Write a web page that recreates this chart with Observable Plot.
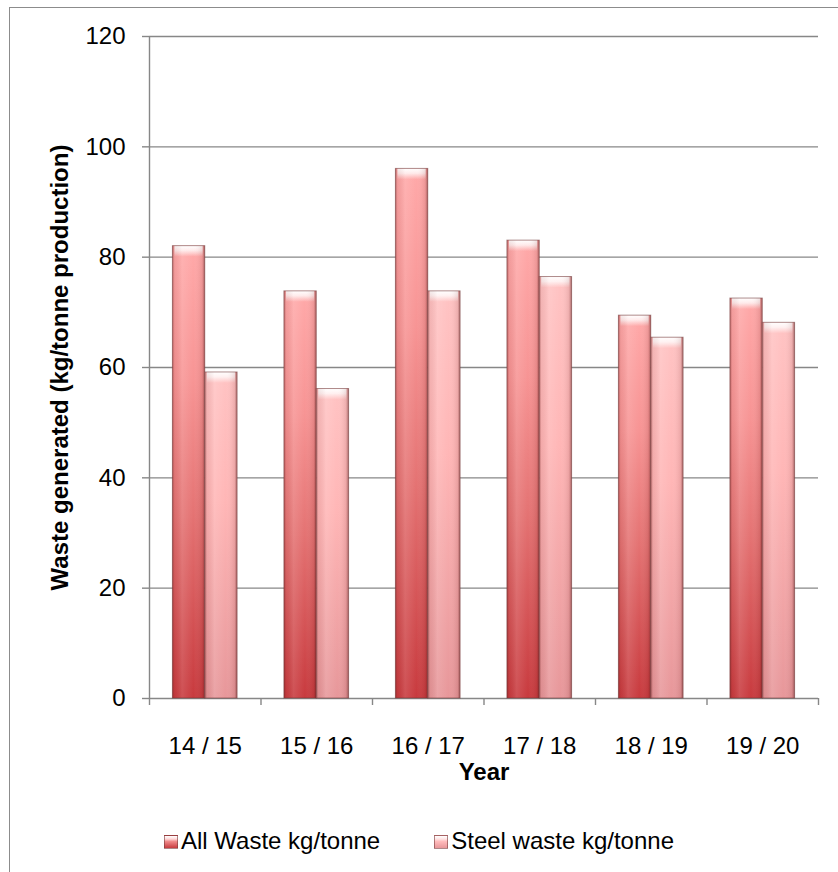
<!DOCTYPE html>
<html>
<head>
<meta charset="utf-8">
<script src="https://cdn.jsdelivr.net/npm/d3@7"></script>
<script src="https://cdn.jsdelivr.net/npm/@observablehq/plot@0.6"></script>
<style>
  html, body { margin: 0; padding: 0; background: #fff; overflow: hidden; }
  body { width: 838px; height: 872px; position: relative; font-family: "Liberation Sans", Arial, sans-serif; }
  #frame { position: absolute; left: 9px; top: 7px; width: 900px; height: 900px; border-left: 1.5px solid #8c8c8c; border-top: 1.5px solid #8c8c8c; box-sizing: border-box; }
  #chart { position: absolute; left: 0; top: 0; }
  #legend { position: absolute; left: 0; top: 826px; width: 838px; height: 30px; display: flex; justify-content: center; align-items: center; font-size: 24px; color: #000; }
  .item { display: flex; align-items: center; }
  .item + .item { margin-left: 54px; }
  .sw { width: 14px; height: 14px; margin-right: 3px; box-sizing: border-box; border: 1px solid rgba(120,60,60,0.6); position: relative; top: 1px; }
  .sw.all { background: linear-gradient(to bottom, #ffffff 0%, #ffd8d8 25%, #f08a8a 45%, #c83c40 100%); }
  .sw.steel { background: linear-gradient(to bottom, #ffffff 0%, #ffe4e4 25%, #ffbcbc 45%, #e8979a 100%); }
</style>
</head>
<body>
<div id="frame"></div>
<div id="chart"></div>
<div id="legend">
  <div class="item"><div class="sw all"></div><span>All Waste kg/tonne</span></div>
  <div class="item"><div class="sw steel"></div><span>Steel waste kg/tonne</span></div>
</div>
<script>
// ---- data ----
const years = ["14 / 15", "15 / 16", "16 / 17", "17 / 18", "18 / 19", "19 / 20"];
const allWaste = [82, 73.8, 96, 83, 69.4, 72.5];
const steelWaste = [59.1, 56.1, 73.8, 76.4, 65.4, 68.1];
const yTicks = [0, 20, 40, 60, 80, 100, 120];
const seriesNames = ["All Waste kg/tonne", "Steel waste kg/tonne"];
const yLabel = "Waste generated (kg/tonne production)";
const xLabel = "Year";

const rows = years.map((y, i) => ({year: y, all: allWaste[i], steel: steelWaste[i]}));

// ---- layout ----
const W = 838, H = 800;
const mL = 149, mR = 20, mT = 36, mB = 102;
const step = (W - mL - mR) / years.length;
const outer = 0.21 * step, mid = 0.5 * step;
const gray = "#878787";
const font = "'Liberation Sans', Arial, sans-serif";

const NS = "http://www.w3.org/2000/svg";
const defs = () => {
  const g = document.createElementNS(NS, "g");
  g.innerHTML = `
  <defs>
    <linearGradient id="gAll" x1="0" y1="0" x2="0" y2="1">
      <stop offset="0" stop-color="#ffa9a9"/>
      <stop offset="0.3" stop-color="#f79494"/>
      <stop offset="0.6" stop-color="#e47272"/>
      <stop offset="1" stop-color="#c83a3e"/>
    </linearGradient>
    <linearGradient id="gSteel" x1="0" y1="0" x2="0" y2="1">
      <stop offset="0" stop-color="#ffc3c3"/>
      <stop offset="0.4" stop-color="#ffb6b6"/>
      <stop offset="1" stop-color="#e7979a"/>
    </linearGradient>
    <linearGradient id="gShade" x1="0" y1="0" x2="1" y2="0">
      <stop offset="0" stop-color="#6a1e1e" stop-opacity="0.45"/>
      <stop offset="0.07" stop-color="#6a1e1e" stop-opacity="0.08"/>
      <stop offset="0.3" stop-color="#ffffff" stop-opacity="0.12"/>
      <stop offset="0.65" stop-color="#ffffff" stop-opacity="0"/>
      <stop offset="0.92" stop-color="#6a1e1e" stop-opacity="0.12"/>
      <stop offset="1" stop-color="#501818" stop-opacity="0.5"/>
    </linearGradient>
    <linearGradient id="gCap" x1="0" y1="0" x2="0" y2="1">
      <stop offset="0" stop-color="#ffffff" stop-opacity="1"/>
      <stop offset="0.45" stop-color="#ffffff" stop-opacity="0.75"/>
      <stop offset="1" stop-color="#ffffff" stop-opacity="0"/>
    </linearGradient>
  </defs>`;
  return g;
};

const barSet = (key, grad, inL, inR) => [
  Plot.barY(rows, {x: "year", y1: 0, y2: key, fill: grad, insetLeft: inL, insetRight: inR}),
  Plot.barY(rows, {x: "year", y1: key, y2: key, fill: "url(#gCap)", insetLeft: inL + 2, insetRight: inR + 2, insetBottom: -11}),
  Plot.barY(rows, {x: "year", y1: 0, y2: key, fill: "url(#gShade)", stroke: "rgba(110,55,55,0.55)", strokeWidth: 1, insetLeft: inL, insetRight: inR})
];

const chart = Plot.plot({
  width: W,
  height: H,
  marginLeft: mL,
  marginRight: mR,
  marginTop: mT,
  marginBottom: mB,
  style: {fontFamily: font, fontSize: "24px", color: "#000", background: "transparent", overflow: "visible"},
  x: {type: "band", domain: years, padding: 0, round: false},
  y: {domain: [0, 120]},
  marks: [
    defs,
    Plot.gridY(yTicks, {stroke: gray, strokeOpacity: 1, strokeWidth: 1.4}),
    Plot.ruleX([years[0]], {dx: -step / 2, stroke: gray, strokeWidth: 1.4}),
    Plot.axisY(yTicks, {tickSize: 7, tickPadding: 17, fontSize: 24, stroke: gray, strokeWidth: 1.4, fill: "#000", label: null}),
    Plot.axisX({tickSize: 0, tickPadding: 38, fontSize: 24, fill: "#000", label: null}),
    Plot.axisX(years, {tickSize: 7, tickFormat: () => "", dx: -step / 2, stroke: gray, strokeWidth: 1.4, label: null}),
    Plot.axisX([years[years.length - 1]], {tickSize: 7, tickFormat: () => "", dx: step / 2, stroke: gray, strokeWidth: 1.4, label: null}),
    ...barSet("all", "url(#gAll)", outer, mid),
    ...barSet("steel", "url(#gSteel)", mid, outer),
    Plot.text([yLabel], {frameAnchor: "left", rotate: -90, dx: -89, fontWeight: "bold", fontSize: 24, textAnchor: "middle", lineAnchor: "middle", fill: "#000"}),
    Plot.text([xLabel], {frameAnchor: "bottom", dy: 74, fontWeight: "bold", fontSize: 24, textAnchor: "middle", lineAnchor: "middle", fill: "#000"})
  ]
});
document.getElementById("chart").appendChild(chart);
</script>
</body>
</html>
